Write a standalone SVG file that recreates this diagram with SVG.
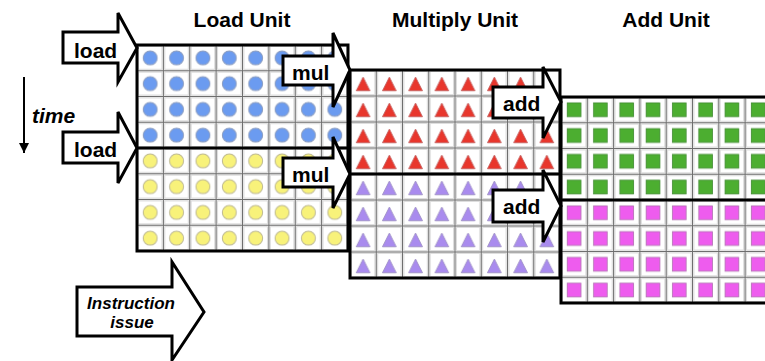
<svg xmlns="http://www.w3.org/2000/svg" width="765" height="361" viewBox="0 0 765 361">
<style>
.title{font-family:"Liberation Sans",Arial,sans-serif;font-weight:bold;font-size:21px;fill:#000;text-anchor:middle}
.lbl{font-family:"Liberation Sans",Arial,sans-serif;font-weight:bold;font-size:21px;fill:#000}
.it{font-family:"Liberation Sans",Arial,sans-serif;font-weight:bold;font-style:italic;fill:#000}
.barrow{fill:#fff;stroke:#000;stroke-width:3;stroke-linejoin:miter}
.box{fill:none;stroke:#000;stroke-width:3}
.grid{fill:none;stroke:#6e6e6e;stroke-width:1}
.halo{fill:#fff;stroke:#dcdcdc;stroke-width:1.5}
.blue{fill:#6b9bf0;stroke:#8a9cc0;stroke-width:1}
.yellow{fill:#f8f27a;stroke:#bdb890;stroke-width:1}
.red{fill:#e8362c;stroke:#c06060;stroke-width:0.8}
.purple{fill:#a98bee;stroke:#9a8cc0;stroke-width:0.8}
.green{fill:#4cae30;stroke:#3f8a30;stroke-width:0.8}
.magenta{fill:#ee5cee;stroke:#b070b0;stroke-width:0.8}
</style>
<defs>
<pattern id="pLoadB" patternUnits="userSpaceOnUse" x="137" y="45" width="26.375" height="25.75">
<rect class="halo" x="1.2" y="1.2" width="23.975" height="23.35"/>
<circle class="blue" cx="13.19" cy="12.9" r="7"/>
</pattern>
<pattern id="pLoadY" patternUnits="userSpaceOnUse" x="137" y="45" width="26.375" height="25.75">
<rect class="halo" x="1.2" y="1.2" width="23.975" height="23.35"/>
<circle class="yellow" cx="13.19" cy="12.9" r="7"/>
</pattern>
<pattern id="pMulR" patternUnits="userSpaceOnUse" x="350" y="70" width="26.25" height="26">
<rect class="halo" x="1.2" y="1.2" width="23.85" height="23.6"/>
<polygon class="red" points="13.1,7 20,20.8 6.2,20.8"/>
</pattern>
<pattern id="pMulP" patternUnits="userSpaceOnUse" x="350" y="70" width="26.25" height="26">
<rect class="halo" x="1.2" y="1.2" width="23.85" height="23.6"/>
<polygon class="purple" points="13.1,7 20,20.8 6.2,20.8"/>
</pattern>
<pattern id="pAddG" patternUnits="userSpaceOnUse" x="561" y="97" width="26.3" height="25.75">
<rect class="halo" x="1.2" y="1.2" width="23.9" height="23.35"/>
<rect class="green" x="6.2" y="5.9" width="13.8" height="13.8"/>
</pattern>
<pattern id="pAddM" patternUnits="userSpaceOnUse" x="561" y="97" width="26.3" height="25.75">
<rect class="halo" x="1.2" y="1.2" width="23.9" height="23.35"/>
<rect class="magenta" x="6.2" y="5.9" width="13.8" height="13.8"/>
</pattern>
<marker id="ah" viewBox="0 0 10 10" refX="10" refY="5" markerWidth="5" markerHeight="5" orient="auto" markerUnits="strokeWidth">
<path d="M0,0 L10,5 L0,10 Z" fill="#000"/>
</marker>
</defs>
<rect width="765" height="361" fill="#fff"/>

<text class="title" x="242" y="27">Load Unit</text>
<text class="title" x="455" y="27">Multiply Unit</text>
<text class="title" x="666" y="27">Add Unit</text>

<g id="load-unit">
<rect x="137" y="45" width="211" height="103" fill="url(#pLoadB)"/>
<rect x="137" y="148" width="211" height="103" fill="url(#pLoadY)"/>
<path class="grid" d="M163.4,45V251M189.75,45V251M216.1,45V251M242.5,45V251M268.9,45V251M295.25,45V251M321.6,45V251M137,70.75H348M137,96.5H348M137,122.25H348M137,173.75H348M137,199.5H348M137,225.25H348"/>
<rect class="box" x="137" y="45" width="211" height="206"/>
<path class="box" d="M137,148H348"/>
</g>

<g id="multiply-unit">
<rect x="350" y="70" width="210" height="104" fill="url(#pMulR)"/>
<rect x="350" y="174" width="210" height="104" fill="url(#pMulP)"/>
<path class="grid" d="M376.25,70V278M402.5,70V278M428.75,70V278M455,70V278M481.25,70V278M507.5,70V278M533.75,70V278M350,96H560M350,122H560M350,148H560M350,200H560M350,226H560M350,252H560"/>
<rect class="box" x="350" y="70" width="210" height="208"/>
<path class="box" d="M350,174H560"/>
</g>

<g id="add-unit">
<rect x="561" y="97" width="212" height="103" fill="url(#pAddG)"/>
<rect x="561" y="200" width="212" height="103" fill="url(#pAddM)"/>
<path class="grid" d="M587.3,97V303M613.6,97V303M639.9,97V303M666.2,97V303M692.5,97V303M718.8,97V303M745.1,97V303M561,122.75H773M561,148.5H773M561,174.25H773M561,225.75H773M561,251.5H773M561,277.25H773"/>
<rect class="box" x="561" y="97" width="212" height="206"/>
<path class="box" d="M561,200H773"/>
</g>

<g id="load-arrow-1">
<path class="barrow" d="M63,32H118V13L137,48L118,82V63H63Z"/>
<text class="lbl" x="74" y="58">load</text>
</g>
<g id="load-arrow-2">
<path class="barrow" d="M63,132H118V112L137,148L118,183V163H63Z"/>
<text class="lbl" x="74" y="157">load</text>
</g>
<g id="mul-arrow-1">
<path class="barrow" d="M283,56H333V33L350,70L333,107V85H283Z"/>
<text class="lbl" x="292" y="80">mul</text>
</g>
<g id="mul-arrow-2">
<path class="barrow" d="M283,158H333V137L350,174L333,208V187H283Z"/>
<text class="lbl" x="292" y="182">mul</text>
</g>
<g id="add-arrow-1">
<path class="barrow" d="M493,87H543V67L561,102L543,138V118H493Z"/>
<text class="lbl" x="503" y="111">add</text>
</g>
<g id="add-arrow-2">
<path class="barrow" d="M493,190H543V170L561,206L543,242V222H493Z"/>
<text class="lbl" x="503" y="214">add</text>
</g>
<g id="issue-arrow">
<path class="barrow" d="M77,287H172V262L204,312L172,360V336H77Z"/>
<text class="it" x="131" y="309" font-size="17" text-anchor="middle">Instruction</text>
<text class="it" x="132" y="328" font-size="17" text-anchor="middle">issue</text>
</g>

<g id="connectors">
<line x1="24" y1="77" x2="24" y2="153" stroke="#000" stroke-width="2" marker-end="url(#ah)"/>
</g>
<text class="it" x="32" y="123" font-size="21">time</text>
</svg>
